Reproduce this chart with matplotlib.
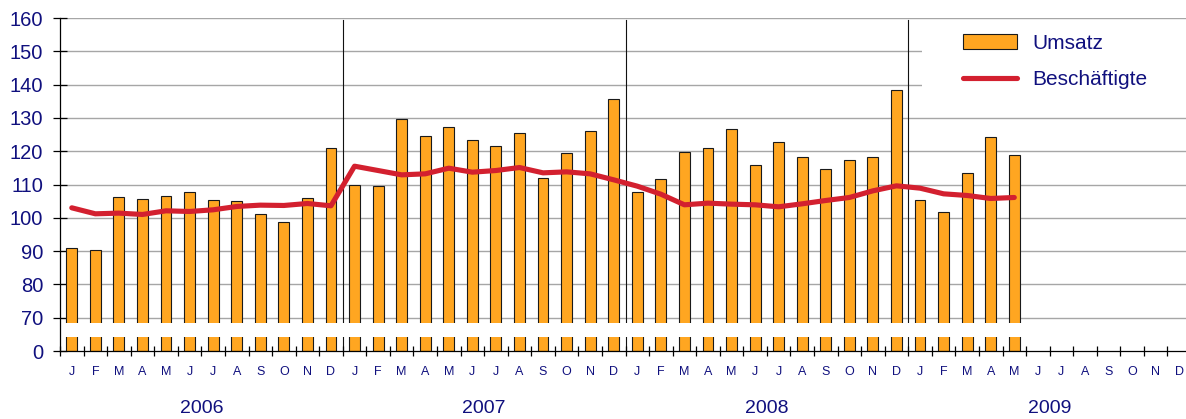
import matplotlib.pyplot as plt
import numpy as np
from matplotlib.patches import Rectangle

plt.rcParams['font.family'] = ['Liberation Sans', 'DejaVu Sans']

# Umsatz / Beschäftigte, Index, Jan 2006 - Mai 2009
years = ['2006', '2007', '2008', '2009']
months = ['J', 'F', 'M', 'A', 'M', 'J', 'J', 'A', 'S', 'O', 'N', 'D']

umsatz = [91.0, 90.2, 106.3, 105.7, 106.5, 107.8, 105.3, 105.1, 101.2, 98.8, 106.0, 121.0,
          109.7, 109.6, 129.7, 124.6, 127.3, 123.4, 121.6, 125.5, 111.9, 119.6, 126.0, 135.6,
          107.8, 111.7, 119.9, 121.0, 126.7, 115.9, 122.8, 118.3, 114.8, 117.4, 118.3, 138.3,
          105.4, 101.8, 113.5, 124.3, 118.9]

beschaeftigte = [103.0, 101.2, 101.4, 101.0, 102.1, 101.9, 102.4, 103.4, 103.8, 103.7, 104.3, 103.6,
                 115.5, 114.2, 112.9, 113.2, 114.9, 113.7, 114.2, 115.1, 113.5, 113.8, 113.2, 111.4,
                 109.5, 107.1, 103.9, 104.4, 104.1, 103.9, 103.3, 104.2, 105.2, 106.1, 108.1, 109.6,
                 108.9, 107.2, 106.7, 105.8, 106.1]

ytick_vals = [0, 70, 80, 90, 100, 110, 120, 130, 140, 150, 160]

navy = '#10107e'
orange = '#ffa621'
red = '#d3202f'


def scale(v):
    # gebrochene Achse: 0..70 auf eine Einheit gestaucht
    v = np.asarray(v, dtype=float)
    return np.where(v >= 70, v / 10.0, 6 + v / 70.0)


fig = plt.figure(figsize=(11.86, 4.19), dpi=100)
ax = fig.add_axes([60 / 1186, 68 / 419, 1131 / 1186, 333 / 419])

n = len(years) * 12
x_bar = np.arange(len(umsatz))
x_line = np.arange(len(beschaeftigte))

ax.set_xlim(-0.5, n - 0.5)
ax.set_ylim(6, 16)

# gitter
for t in ytick_vals[1:]:
    ax.axhline(scale(t), color='#a6a6a6', lw=1.0, zorder=0)

bars = ax.bar(x_bar, scale(umsatz) - 6, bottom=6, width=0.46, color=orange,
              edgecolor='#1a1a1a', linewidth=0.8, zorder=2, label='Umsatz')
line, = ax.plot(x_line, scale(beschaeftigte), color=red, lw=3.7, zorder=3,
                solid_joinstyle='round', solid_capstyle='round', label='Beschäftigte')

# jahrestrenner
for i in range(1, len(years)):
    ax.plot([12 * i - 0.5] * 2, [6, 15.93], color='#111111', lw=0.8, zorder=1.5)

# achsenbruch
ax.axhspan(6.42, 6.84, color='white', lw=0, zorder=2.4)

ax.set_yticks(scale(ytick_vals))
ax.set_yticklabels([str(v) for v in ytick_vals])
ax.tick_params(axis='y', direction='inout', length=10, width=0.9, pad=7,
               labelsize=14.5, labelcolor=navy)

ax.set_xticks(np.arange(-0.5, n, 1.0))
ax.set_xticklabels([])
ax.set_xticks(np.arange(n), minor=True)
ax.set_xticklabels(months * len(years), minor=True)
ax.tick_params(axis='x', which='major', direction='inout', length=6.5, width=0.9)
ax.tick_params(axis='x', which='minor', length=0, pad=11, labelsize=9, labelcolor=navy)

for i, y in enumerate(years):
    ax.text(12 * i + 5.5, -0.172, y, transform=ax.get_xaxis_transform(),
            ha='center', va='center', fontsize=14, color=navy)

for s in ['top', 'right']:
    ax.spines[s].set_visible(False)
ax.spines['left'].set_linewidth(0.9)
ax.spines['bottom'].set_linewidth(0.9)
ax.spines['left'].set_zorder(3)
ax.spines['bottom'].set_zorder(3)

# weisser hintergrund der legende
ax.add_patch(Rectangle((0.762, 0.726), 0.3, 0.262, transform=ax.transAxes,
                       facecolor='white', edgecolor='none', zorder=4, clip_on=False))

leg = ax.legend([bars, line], ['Umsatz', 'Beschäftigte'], loc='upper left',
                bbox_to_anchor=(0.798, 0.953), fontsize=15,
                handlelength=2.6, handletextpad=0.75, labelspacing=0.85,
                frameon=False, borderpad=0, borderaxespad=0)
leg.set_zorder(5)
for txt in leg.get_texts():
    txt.set_color(navy)

fig.savefig('out.png', dpi=100)
